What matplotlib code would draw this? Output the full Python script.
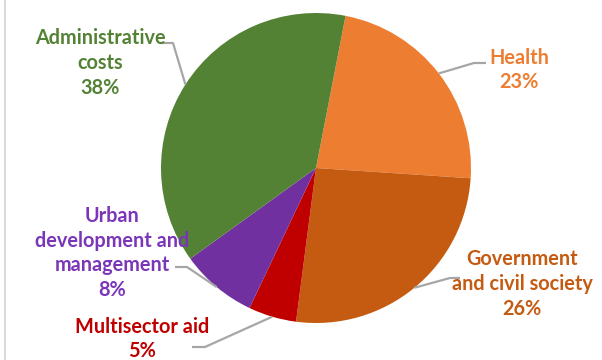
import numpy as np
import matplotlib.pyplot as plt

# sector shares, clockwise from the top
sectors = ["Health", "Government\nand civil society", "Multisector aid",
           "Urban\ndevelopment and\nmanagement", "Administrative\ncosts"]
shares = [23, 26, 5, 8, 38]
colors = ["#ED7D31", "#C55A11", "#C00000", "#7030A0", "#548235"]
text_colors = ["#ED7D31", "#C55A11", "#C00000", "#7B35B8", "#548235"]

W, H = 602, 360
CX, CY, R = 316, H - 168, 155
START = 79

# label block centres and leader elbows (pixel coords, y measured from top)
label_pos = [(519, 70), (522, 284), (142, 339), (112, 253), (100, 63)]
leaders = [[(474, 63), (486, 63)],
           [(450, 278), (460, 278)],
           [(205, 347), (192, 347)],
           [(187, 267), (175, 267)],
           [(173, 43), (160, 43)]]

fig = plt.figure(figsize=(W / 100, H / 100), dpi=100)
ax = fig.add_axes([0, 0, 1, 1])

wedges, _ = ax.pie(shares, colors=colors, startangle=START, counterclock=False,
                   center=(CX, CY), radius=R, frame=True,
                   wedgeprops=dict(linewidth=0))
ax.set_xlim(0, W)
ax.set_ylim(0, H)
ax.set_aspect("equal")
ax.axis("off")

for w, name, share, col, (lx, ly), elbow in zip(wedges, sectors, shares, text_colors,
                                              label_pos, leaders):
    mid = np.deg2rad((w.theta1 + w.theta2) / 2)
    ex, ey = CX + R * np.cos(mid), CY + R * np.sin(mid)
    xs = [ex] + [p[0] for p in elbow]
    ys = [ey] + [H - p[1] for p in elbow]
    ax.plot(xs, ys, color="#A6A6A6", lw=1.6, solid_capstyle="butt")
    ax.text(lx, H - ly, f"{name}\n{share}%", color=col, ha="center", va="center",
            fontsize=14.3, fontweight="bold", family="Lato", linespacing=1.3)

# thin frame edge on the left
ax.plot([4.5, 4.5], [0, H], color="#D9D9D9", lw=1.5)

fig.savefig("out.png", dpi=100)
